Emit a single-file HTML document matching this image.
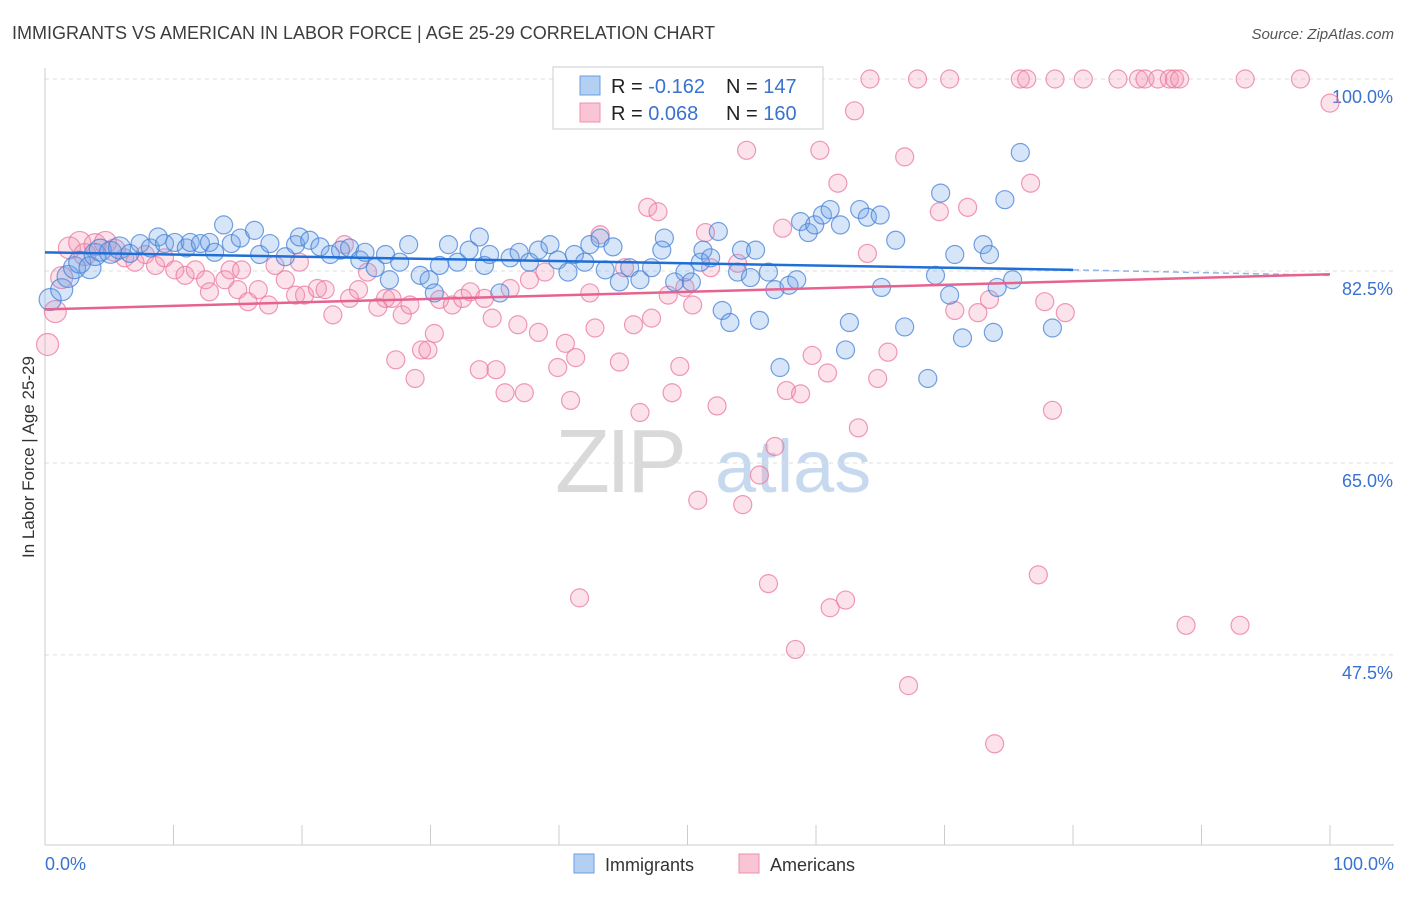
<!DOCTYPE html>
<html><head><meta charset="utf-8"><style>
body{margin:0;background:#fff;font-family:"Liberation Sans",sans-serif;}
svg text{font-family:"Liberation Sans",sans-serif;}
</style></head><body>
<svg id="chart" width="1406" height="892" xmlns="http://www.w3.org/2000/svg">
<text x="12" y="39" font-size="18" fill="#3d3d3d">IMMIGRANTS VS AMERICAN IN LABOR FORCE | AGE 25-29 CORRELATION CHART</text>
<text x="1394" y="39" font-size="15" fill="#555" text-anchor="end" font-style="italic">Source: ZipAtlas.com</text>
<g>
<text x="555" y="492" font-size="90" fill="#d9d9d9" font-family="Liberation Serif" letter-spacing="-4">ZIP</text>
<text x="715" y="492" font-size="74" fill="#c7d9ef">atlas</text>
</g>
<g id="grid"></g>
<g id="axes"></g>
<g id="pts"></g>
<g id="trends"></g>
<text transform="translate(34,457) rotate(-90)" font-size="17" fill="#333" text-anchor="middle">In Labor Force | Age 25-29</text>
<g>
<rect x="553" y="67" width="270" height="62" fill="#fff" stroke="#ccc"/>
<rect x="580" y="76" width="20" height="19" fill="#b3cff2" stroke="#6a9fe0"/>
<rect x="580" y="103" width="20" height="19" fill="#f9c4d4" stroke="#ee8fad"/>
<text x="611" y="93" font-size="20" fill="#222">R = <tspan fill="#3a72d0">-0.162</tspan></text>
<text x="726" y="93" font-size="20" fill="#222">N = <tspan fill="#3a72d0">147</tspan></text>
<text x="611" y="120" font-size="20" fill="#222">R = <tspan fill="#3a72d0"> 0.068</tspan></text>
<text x="726" y="120" font-size="20" fill="#222">N = <tspan fill="#3a72d0">160</tspan></text>
</g>
<g>
<rect x="574" y="854" width="20" height="19" fill="#b3cff2" stroke="#6a9fe0"/>
<text x="605" y="871" font-size="18" fill="#333">Immigrants</text>
<rect x="739" y="854" width="20" height="19" fill="#f9c4d4" stroke="#ee8fad"/>
<text x="770" y="871" font-size="18" fill="#333">Americans</text>
</g>
</svg>
<script>
const yTicks=[100,82.5,65,47.5];
const yTickLabels=["100.0%","82.5%","65.0%","47.5%"];
const xTicks=[0,10,20,30,40,50,60,70,80,90,100];
const xTickLabels=["0.0%","100.0%"];
const blueX=[0.4,1.3,1.8,2.3,2.7,3.5,3.9,4.3,5.1,5.8,6.6,7.4,8.2,8.8,9.3,10.1,11.0,11.3,12.1,12.8,13.2,13.9,14.5,15.2,16.3,16.7,17.5,18.7,19.5,19.8,20.6,21.4,22.2,23.0,23.7,24.5,24.9,25.7,26.5,26.8,27.6,28.3,29.2,29.9,30.3,30.7,31.4,32.1,33.0,33.8,34.2,34.6,35.4,36.2,36.9,37.7,38.4,39.3,39.9,40.7,41.2,42.0,42.4,43.2,43.6,44.2,44.7,45.5,46.3,47.2,48.0,48.2,49.0,49.8,50.3,51.0,51.2,51.8,52.4,52.7,53.3,53.9,54.2,54.9,55.3,55.6,56.3,56.8,57.2,57.9,58.5,58.8,59.4,59.9,60.5,61.1,61.9,62.3,62.6,63.4,64.0,65.0,65.1,66.2,66.9,68.7,69.3,69.7,70.4,70.8,71.4,73.0,73.5,73.8,74.1,74.7,75.3,75.9,78.4];
const blueY=[79.9,80.8,82.0,82.8,83.3,82.8,84.0,84.4,84.2,84.6,84.1,85.0,84.6,85.6,85.0,85.1,84.6,85.1,85.0,85.1,84.2,86.7,85.0,85.5,86.2,84.0,85.0,83.8,84.9,85.6,85.3,84.7,84.0,84.4,84.6,83.5,84.2,82.8,84.0,81.7,83.3,84.9,82.1,81.7,80.5,83.0,84.9,83.3,84.4,85.6,83.0,84.0,80.5,83.7,84.2,83.3,84.4,84.9,83.5,82.4,84.0,83.3,84.9,85.5,82.6,84.7,81.5,82.8,81.7,82.8,84.4,85.5,81.5,82.4,81.5,83.3,84.4,83.7,86.1,78.9,77.8,82.4,84.4,81.9,84.4,78.0,82.4,80.8,73.7,81.2,81.7,87.0,86.0,86.7,87.6,88.1,86.7,75.3,77.8,88.1,87.4,87.6,81.0,85.3,77.4,72.7,82.1,89.6,80.3,84.0,76.4,84.9,84.0,76.9,81.0,89.0,81.7,93.3,77.3];
const pinkX=[0.2,0.8,1.3,1.9,2.7,3.1,3.9,4.7,5.4,6.2,7.0,7.8,8.6,9.3,10.1,10.9,11.7,12.5,12.8,14.0,14.4,15.0,15.3,15.8,16.6,17.4,17.9,18.7,19.5,19.8,20.2,21.2,21.8,22.4,23.3,23.7,24.4,25.1,25.9,26.5,27.0,27.3,27.8,28.4,28.8,29.3,29.8,30.3,30.7,31.7,32.5,33.1,33.8,34.2,34.8,35.1,35.8,36.2,36.8,37.3,37.7,38.4,38.9,39.9,40.5,40.9,41.3,41.6,42.4,42.8,43.2,44.7,45.1,45.8,46.3,46.9,47.2,47.7,48.5,48.8,49.4,49.8,50.4,50.8,51.4,51.8,52.3,53.9,54.3,54.6,55.6,56.3,56.8,57.4,57.7,58.4,58.8,59.7,60.3,60.9,61.1,61.7,62.3,63.0,63.3,64.0,64.2,64.8,65.6,66.9,67.2,67.9,69.6,70.4,70.8,71.8,72.6,73.5,73.9,75.9,76.4,76.7,77.3,77.8,78.4,78.6,79.4,80.8,83.5,85.1,85.6,86.6,87.5,87.9,88.3,88.8,93.0,93.4,97.7,100];
const pinkY=[75.8,78.8,81.9,84.6,85.1,84.0,84.9,85.1,84.4,83.7,83.3,84.0,83.0,83.7,82.6,82.1,82.6,81.7,80.6,81.7,82.6,80.8,82.6,79.7,80.8,79.4,83.0,81.7,80.3,83.3,80.3,80.9,80.8,78.5,84.9,80.0,80.8,82.4,79.2,80.0,80.0,74.4,78.5,79.4,72.7,75.3,75.3,76.8,79.9,79.4,80.0,80.6,73.5,80.0,78.2,73.5,71.4,80.9,77.6,71.4,81.7,76.9,82.4,73.7,75.9,70.7,74.6,52.7,80.5,77.3,85.8,74.2,82.8,77.6,69.6,88.3,78.2,87.9,80.3,71.4,73.8,81.0,79.4,61.6,86.0,82.8,70.2,83.2,61.2,93.5,63.9,54.0,66.5,86.4,71.6,48.0,71.3,74.8,93.5,73.2,51.8,90.5,52.5,97.1,68.2,84.1,100,72.7,75.1,92.9,44.7,100,87.9,100,78.9,88.3,78.7,79.9,39.4,100,100,90.5,54.8,79.7,69.8,100,78.7,100,100,100,100,100,100,100,100,50.2,50.2,100,100,97.8];
const blueTrend=[84.2,82.6,82.1];
const pinkTrend=[79.0,82.2];
const X0=45,X1=1330,YTOP=79,PXPER=10.97,YBOT=845;
const sx=v=>X0+(X1-X0)*v/100;
const sy=v=>YTOP+(100-v)*PXPER;
const NS="http://www.w3.org/2000/svg";
function mk(tag,attrs,parent){const e=document.createElementNS(NS,tag);for(const k in attrs)e.setAttribute(k,attrs[k]);parent.appendChild(e);return e;}
const grid=document.getElementById('grid'),axes=document.getElementById('axes'),pts=document.getElementById('pts'),tr=document.getElementById('trends');
yTicks.forEach((t,i)=>{
 const l=mk('line',{x1:X0,x2:1394,y1:sy(t),y2:sy(t),stroke:'#ddd','stroke-dasharray':'4,4'},grid);
 
 
 const tx=mk('text',{x:1393,y:sy(t)+24,'font-size':18,fill:'#3a72d0','text-anchor':'end'},grid);
 tx.textContent=yTickLabels[i];
 
 
});
let a=mk('line',{x1:X0,x2:X0,y1:68,y2:YBOT,stroke:'#ccc'},axes);


a=mk('line',{x1:X0,x2:1394,y1:YBOT,y2:YBOT,stroke:'#ccc'},axes);


xTicks.forEach(t=>{
 const l=mk('line',{x1:sx(t),x2:sx(t),y1:YBOT,y2:YBOT-20,stroke:'#ccc'},axes);
 
 
});
let xl=mk('text',{x:X0,y:870,'font-size':18,fill:'#3a72d0'},axes);xl.textContent=xTickLabels[0];


xl=mk('text',{x:1394,y:870,'font-size':18,fill:'#3a72d0','text-anchor':'end'},axes);xl.textContent=xTickLabels[1];


function drawPts(xs,ys,fill,stroke,name){
 xs.forEach((x,i)=>{
  const r=x<6?11:9;
  const c=mk('circle',{cx:sx(x),cy:sy(ys[i]),r:r,fill:fill,stroke:stroke,'stroke-width':1.2},pts);
  
  
 });
}
drawPts(pinkX,pinkY,'rgba(244,150,178,0.28)','rgba(234,120,158,0.75)','american-point');
drawPts(blueX,blueY,'rgba(110,160,230,0.28)','rgba(70,130,215,0.75)','immigrant-point');
let t=mk('line',{x1:sx(0),y1:sy(blueTrend[0]),x2:sx(80),y2:sy(blueTrend[1]),stroke:'#1f6fd6','stroke-width':2.5},tr);


t=mk('line',{x1:sx(80),y1:sy(blueTrend[1]),x2:sx(100),y2:sy(blueTrend[2]),stroke:'#8fb3e6','stroke-width':1.5,'stroke-dasharray':'6,4'},tr);


t=mk('line',{x1:sx(0),y1:sy(pinkTrend[0]),x2:sx(100),y2:sy(pinkTrend[1]),stroke:'#e8628f','stroke-width':2.5},tr);


</script>
</body></html>
